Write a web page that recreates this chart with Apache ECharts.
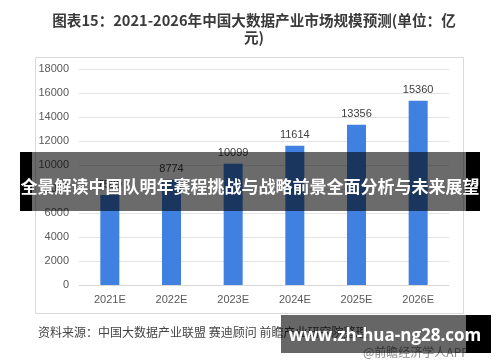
<!DOCTYPE html>
<html><head><meta charset="utf-8">
<script src="https://cdn.jsdelivr.net/npm/echarts@6/dist/echarts.min.js"></script>
<style>html,body{margin:0;padding:0;background:#fff}#c{width:500px;height:362px}</style>
</head><body><div id="c"></div>
<script>
const categories = ['2021E','2022E','2023E','2024E','2025E','2026E'];
const values = [7500, 8774, 10099, 11614, 13356, 15360];
const yTicks = [0,2000,4000,6000,8000,10000,12000,14000,16000,18000];
const titleText = '图表15：2021-2026年中国大数据产业市场规模预测(单位：亿\n元)';
const sourceText = '资料来源：中国大数据产业联盟 赛迪顾问 前瞻产业研究院整理';
const bannerText = '全景解读中国队明年赛程挑战与战略前景全面分析与未来展望';
const siteText = 'www.zh-hua-ng28.com';
const appText = '@前瞻经济学人APP';

const cjk = '"Noto Sans CJK SC", "Microsoft YaHei", sans-serif';
const chart = echarts.init(document.getElementById('c'));
chart.setOption({
  animation: false,
  title: {
    text: titleText, left: 249, top: 7, textAlign: 'center',
    textStyle: {fontFamily: cjk, fontSize: 14.6, fontWeight: 'bold', color: '#3a3a3a', lineHeight: 17}
  },
  grid: {left: 79, right: 51, top: 69, bottom: 77},
  xAxis: {
    type: 'category', data: categories,
    axisLine: {lineStyle: {color: '#d9d9d9'}}, axisTick: {show: false},
    axisLabel: {color: '#595959', fontSize: 11, margin: 9, fontFamily: 'Liberation Sans, Arial, sans-serif'}
  },
  yAxis: {
    type: 'value', min: yTicks[0], max: yTicks[yTicks.length-1], interval: yTicks[1]-yTicks[0],
    axisLine: {show: false}, axisTick: {show: false},
    axisLabel: {color: '#595959', fontSize: 11, margin: 10, fontFamily: 'Liberation Sans, Arial, sans-serif', formatter: v => String(v)},
    splitLine: {lineStyle: {color: '#e3e3e3'}}
  },
  series: [{
    type: 'bar', data: values, barWidth: 19,
    itemStyle: {color: '#3f80e0'},
    label: {show: true, position: 'top', distance: 5, color: '#404040', fontSize: 11, fontFamily: 'Liberation Sans, Arial, sans-serif'}
  }],
  graphic: [
    {type: 'rect', z: 0, shape: {x: 35.5, y: 57.5, width: 428, height: 256}, style: {fill: 'none', stroke: '#d9d9d9', lineWidth: 1}},
    {type: 'text', z: 10, left: 38, top: 326, style: {text: sourceText, font: '12px ' + cjk, fill: '#444'}},
    {type: 'rect', z: 100, shape: {x: 20, y: 152, width: 12, height: 59}, style: {fill: '#000'}},
    {type: 'rect', z: 100, shape: {x: 466, y: 152, width: 14, height: 59}, style: {fill: '#000'}},
    {type: 'rect', z: 100, shape: {x: 32, y: 152, width: 434, height: 59}, style: {fill: 'rgba(0,0,0,0.58)'}},
    {type: 'text', z: 101, x: 250, y: 187, style: {text: bannerText, font: 'bold 17px ' + cjk, fill: '#fff', align: 'center', verticalAlign: 'middle'}},
    {type: 'text', z: 90, x: 363, y: 346, style: {text: appText, font: '12px ' + cjk, fill: '#888'}},
    {type: 'rect', z: 100, shape: {x: 281, y: 315, width: 185, height: 38}, style: {fill: 'rgba(0,0,0,0.6)'}},
    {type: 'rect', z: 100, shape: {x: 466, y: 315, width: 25, height: 38}, style: {fill: '#000'}},
    {type: 'text', z: 101, x: 385, y: 336, style: {text: siteText, font: 'bold 17px "Open Sans", "DejaVu Sans", sans-serif', fill: '#fff', align: 'center', verticalAlign: 'middle'}}
  ]
});
</script></body></html>
